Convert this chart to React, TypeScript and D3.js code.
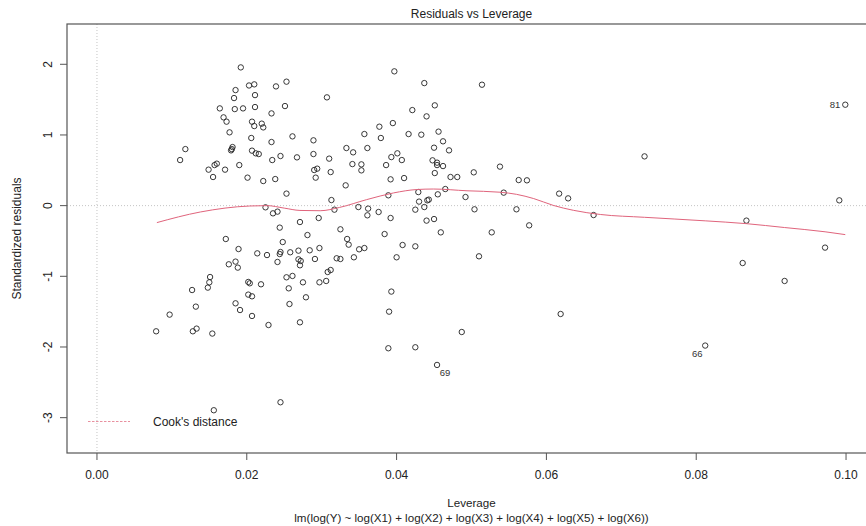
import React from "react";
import * as d3 from "d3";

const leverage = [
  0.0192, 0.0203, 0.0210, 0.0253, 0.0239, 0.0185, 0.0211, 0.0183, 0.0164, 0.0184,
  0.0195, 0.0211, 0.0251, 0.0233, 0.0169, 0.0173, 0.0207, 0.0220, 0.0210, 0.0222,
  0.0177, 0.0261, 0.0206, 0.0233, 0.0181, 0.0179, 0.0180, 0.0207, 0.0212, 0.0216,
  0.0245, 0.0267, 0.0234, 0.0118, 0.0111, 0.0157, 0.0160, 0.0190, 0.0149, 0.0171,
  0.0155, 0.0201, 0.0222, 0.0238, 0.0253, 0.0225, 0.0235, 0.0241, 0.0244, 0.0271,
  0.0172, 0.0248, 0.0189, 0.0281, 0.0214, 0.0227, 0.0245, 0.0244, 0.0258, 0.0269,
  0.0284, 0.0185, 0.0176, 0.0188, 0.0241, 0.0269, 0.0272, 0.0271, 0.0151, 0.0150,
  0.0148, 0.0127, 0.0202, 0.0204, 0.0219, 0.0253, 0.0261, 0.0275, 0.0256, 0.0279,
  0.0202, 0.0207, 0.0132, 0.0185, 0.0191, 0.0257, 0.0097, 0.0207, 0.0229, 0.0271,
  0.0079, 0.0128, 0.0133, 0.0154, 0.0245, 0.0156, 0.0397, 0.0437, 0.0514, 0.0307,
  0.0421, 0.0451, 0.0440, 0.0395, 0.0377, 0.0357, 0.0416, 0.0433, 0.0456, 0.0379,
  0.0462, 0.0289, 0.0333, 0.0342, 0.0361, 0.0450, 0.0470, 0.0289, 0.0310, 0.0401,
  0.0393, 0.0407, 0.0341, 0.0353, 0.0353, 0.0386, 0.0448, 0.0454, 0.0454, 0.0462,
  0.0290, 0.0294, 0.0312, 0.0292, 0.0392, 0.0410, 0.0451, 0.0472, 0.0481, 0.0503,
  0.0538, 0.0563, 0.0574, 0.0332, 0.0389, 0.0429, 0.0465, 0.0455, 0.0492, 0.0543,
  0.0617, 0.0629, 0.0313, 0.0317, 0.0349, 0.0362, 0.0376, 0.0430, 0.0443, 0.0441,
  0.0425, 0.0437, 0.0504, 0.0560, 0.0663, 0.0296, 0.0361, 0.0392, 0.0440, 0.0450,
  0.0325, 0.0384, 0.0459, 0.0527, 0.0577, 0.0334, 0.0336, 0.0408, 0.0425, 0.0297,
  0.0350, 0.0357, 0.0291, 0.0320, 0.0325, 0.0343, 0.0400, 0.0510, 0.0308, 0.0312,
  0.0297, 0.0306, 0.0393, 0.0390, 0.0487, 0.0389, 0.0425, 0.0454, 0.0619, 0.0999,
  0.0731, 0.0991, 0.0867, 0.0972, 0.0862, 0.0918, 0.0812,
];

const stdResiduals = [
  1.956, 1.700, 1.716, 1.754, 1.687, 1.635, 1.564, 1.522, 1.376, 1.366,
  1.376, 1.395, 1.409, 1.305, 1.249, 1.188, 1.188, 1.160, 1.126, 1.107,
  1.037, 0.980, 0.957, 0.900, 0.829, 0.782, 0.800, 0.778, 0.740, 0.730,
  0.702, 0.683, 0.645, 0.800, 0.645, 0.574, 0.594, 0.574, 0.509, 0.509,
  0.405, 0.396, 0.348, 0.376, 0.170, -0.024, -0.109, -0.085, -0.311, -0.232,
  -0.472, -0.515, -0.614, -0.416, -0.675, -0.699, -0.656, -0.685, -0.660, -0.637,
  -0.632, -0.792, -0.830, -0.877, -0.797, -0.760, -0.783, -0.844, -1.010, -1.085,
  -1.160, -1.194, -1.080, -1.099, -1.113, -1.014, -0.995, -1.085, -1.170, -1.297,
  -1.259, -1.283, -1.429, -1.382, -1.477, -1.392, -1.542, -1.561, -1.689, -1.651,
  -1.778, -1.778, -1.740, -1.810, -2.782, -2.895, 1.900, 1.734, 1.711, 1.532,
  1.352, 1.419, 1.263, 1.168, 1.117, 1.013, 1.013, 1.004, 1.047, 0.957,
  0.910, 0.924, 0.815, 0.754, 0.815, 0.820, 0.782, 0.730, 0.665, 0.740,
  0.687, 0.645, 0.588, 0.584, 0.499, 0.574, 0.641, 0.608, 0.574, 0.560,
  0.504, 0.523, 0.475, 0.396, 0.372, 0.390, 0.461, 0.405, 0.405, 0.471,
  0.552, 0.362, 0.358, 0.287, 0.146, 0.192, 0.235, 0.160, 0.122, 0.184,
  0.170, 0.103, 0.079, -0.057, -0.020, -0.042, -0.090, 0.057, 0.085, 0.075,
  -0.057, -0.020, -0.052, -0.052, -0.133, -0.175, -0.137, -0.175, -0.212, -0.190,
  -0.335, -0.402, -0.378, -0.378, -0.279, -0.472, -0.552, -0.557, -0.576, -0.600,
  -0.618, -0.600, -0.755, -0.745, -0.755, -0.731, -0.731, -0.717, -0.939, -0.911,
  -1.085, -1.066, -1.216, -1.500, -1.788, -2.018, -2.004, -2.254, -1.533, 1.428,
  0.697, 0.075, -0.212, -0.594, -0.812, -1.066, -1.980,
];

// labelled observations
const labelIds = ["81", "69", "66"];
const labelLev = [0.0999, 0.0454, 0.0812];
const labelRes = [1.428, -2.254, -1.98];
const labelSide = ["left", "below", "left-below"];

const smoothLev = [0.0080, 0.0138, 0.0204, 0.0227, 0.0250, 0.0271, 0.0298, 0.0324, 0.0360, 0.0396,
  0.0427, 0.0449, 0.0494, 0.0538, 0.0560, 0.0583, 0.0609, 0.0636, 0.0672, 0.0731,
  0.0812, 0.0867, 0.0918, 0.0972, 0.0999];
const smoothFit = [-0.24, -0.09, -0.005, 0.0, -0.035, -0.068, -0.072, -0.025, 0.085, 0.18,
  0.228, 0.235, 0.21, 0.19, 0.16, 0.10, 0.004, -0.066, -0.125, -0.165,
  -0.215, -0.255, -0.31, -0.37, -0.41];

const xTicks = [0, 0.02, 0.04, 0.06, 0.08, 0.1];
const xTickLabels = ["0.00", "0.02", "0.04", "0.06", "0.08", "0.10"];
const yTicks = [-3, -2, -1, 0, 1, 2];
const yTickLabels = ["-3", "-2", "-1", "0", "1", "2"];

const W = 866;
const H = 526;
const left = 67, right = 876, top = 24, bottom = 453;
const FONT = "'Liberation Sans', Arial, sans-serif";
const RED = "#E0647C";
const AXIS = "#555";

export default function App() {
  const x = d3.scaleLinear().domain([-0.004, 0.104]).range([left, right]);
  const y = d3.scaleLinear().domain([-3.5, 2.57]).range([bottom, top]);
  const line = d3
    .line<number>()
    .x((_, i) => x(smoothLev[i]))
    .y((d) => y(d))
    .curve(d3.curveMonotoneX);
  const smoothPath = line(smoothFit) || "";
  const cx = (left + right) / 2;

  return (
    <svg
      width={W}
      height={H}
      style={{ position: "absolute", left: 0, top: 0, background: "#fff" }}
      fontFamily={FONT}
    >
      <rect x={0} y={0} width={W} height={H} fill="#fff" />
      {/* reference lines */}
      <line x1={left} x2={right} y1={y(0)} y2={y(0)} stroke="#c4c4c4" strokeWidth={1} strokeDasharray="1,2" />
      <line x1={x(0)} x2={x(0)} y1={top} y2={bottom} stroke="#c4c4c4" strokeWidth={1} strokeDasharray="1,2" />
      {/* points */}
      {leverage.map((lv, i) => (
        <circle key={i} cx={x(lv)} cy={y(stdResiduals[i])} r={2.7} fill="none" stroke="#222" strokeWidth={0.9} />
      ))}
      {/* smooth */}
      <path d={smoothPath} fill="none" stroke={RED} strokeWidth={1} />
      {/* labels */}
      {labelIds.map((id, i) => {
        const px = x(labelLev[i]);
        const py = y(labelRes[i]);
        let tx = px, ty = py, anchor = "middle";
        if (labelSide[i] === "left") { tx = px - 5; ty = py; anchor = "end"; }
        else if (labelSide[i] === "below") { tx = px + 8; ty = py + 8; anchor = "middle"; }
        else { tx = px - 8; ty = py + 7.5; anchor = "middle"; }
        return (
          <text key={id} x={tx} y={ty} fontSize={9.5} fill="#333" textAnchor={anchor} dominantBaseline="central">
            {id}
          </text>
        );
      })}
      {/* box */}
      <rect x={left} y={top} width={right - left} height={bottom - top} fill="none" stroke={AXIS} strokeWidth={1.2} />
      {/* x axis */}
      {xTicks.map((t, i) => (
        <g key={"x" + i}>
          <line x1={x(t)} x2={x(t)} y1={bottom} y2={bottom + 7} stroke={AXIS} strokeWidth={1} />
          <text x={x(t)} y={475} fontSize={12} fill="#222" textAnchor="middle" dominantBaseline="central">
            {xTickLabels[i]}
          </text>
        </g>
      ))}
      {/* y axis */}
      {yTicks.map((t, i) => (
        <g key={"y" + i}>
          <line x1={left - 7} x2={left} y1={y(t)} y2={y(t)} stroke={AXIS} strokeWidth={1} />
          <text
            x={48}
            y={y(t)}
            fontSize={12}
            fill="#222"
            textAnchor="middle"
            dominantBaseline="central"
            transform={`rotate(-90 48 ${y(t)})`}
          >
            {yTickLabels[i]}
          </text>
        </g>
      ))}
      {/* titles */}
      <text x={cx} y={14} fontSize={12} fill="#222" textAnchor="middle" dominantBaseline="central">
        Residuals vs Leverage
      </text>
      <text x={cx} y={502} fontSize={11.6} fill="#222" textAnchor="middle" dominantBaseline="central">
        Leverage
      </text>
      <text x={cx} y={517} fontSize={11.6} fill="#222" textAnchor="middle" dominantBaseline="central">
        lm(log(Y) ~ log(X1) + log(X2) + log(X3) + log(X4) + log(X5) + log(X6))
      </text>
      <text
        x={17}
        y={(top + bottom) / 2}
        fontSize={12}
        fill="#222"
        textAnchor="middle"
        dominantBaseline="central"
        transform={`rotate(-90 17 ${(top + bottom) / 2})`}
      >
        Standardized residuals
      </text>
      {/* legend */}
      <line x1={88} x2={130} y1={421.5} y2={421.5} stroke="#E8909F" strokeWidth={1} strokeDasharray="2.5,1.5" />
      <text x={153} y={421.5} fontSize={12} fill="#222" dominantBaseline="central">
        Cook's distance
      </text>
    </svg>
  );
}
